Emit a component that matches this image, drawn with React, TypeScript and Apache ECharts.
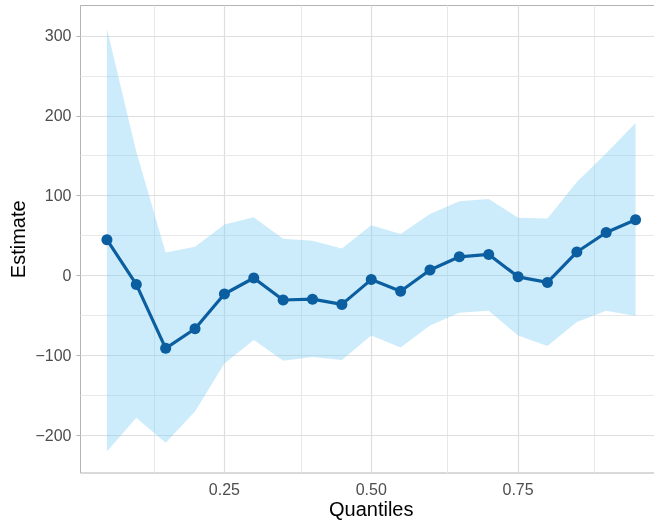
import React, { useEffect, useRef } from "react";
import * as echarts from "echarts";

const quantiles = [0.05, 0.1, 0.15, 0.2, 0.25, 0.3, 0.35, 0.4, 0.45, 0.5, 0.55, 0.6, 0.65, 0.7, 0.75, 0.8, 0.85, 0.9, 0.95];
const estimate = [45, -11, -91, -66.5, -23, -3, -30.5, -29.5, -36, -5, -19.5, 7, 23.5, 26.5, -1.5, -8.5, 29.5, 54, 70];
const upper = [309, 155, 29, 36, 64, 73, 46, 43.5, 34, 63, 52, 77, 93, 96, 72.5, 71.5, 117, 153, 191];
const lower = [-220, -178, -209, -170, -110, -80.5, -106.5, -102, -105.5, -75, -90, -62.5, -46.5, -44, -75, -88, -58, -44, -50.5];

const xTicks = [0.25, 0.5, 0.75];
const xMinor = [0.125, 0.375, 0.625, 0.875];
const yTicks = [-200, -100, 0, 100, 200, 300];
const yMinor = [-150, -50, 50, 150, 250];

const FONT = "'Liberation Sans', Arial, sans-serif";

export default function App() {
  const ref = useRef<HTMLDivElement>(null);
  useEffect(() => {
    if (!ref.current) return;
    const chart = echarts.init(ref.current, null, { renderer: "svg" });
    const gridLines = [
      ...xTicks.map((v) => ({ xAxis: v, lineStyle: { color: "#dedede", width: 1.2 } })),
      ...xMinor.map((v) => ({ xAxis: v, lineStyle: { color: "#e8e8e8", width: 1 } })),
      ...yTicks.map((v) => ({ yAxis: v, lineStyle: { color: "#dedede", width: 1.2 } })),
      ...yMinor.map((v) => ({ yAxis: v, lineStyle: { color: "#e8e8e8", width: 1 } })),
    ];
    chart.setOption({
      animation: false,
      grid: {
        left: 80.5,
        top: 5.5,
        bottom: 47,
        right: -8,
        outerBoundsMode: "none",
        containLabel: false,
        show: true,
        borderColor: "#b3b3b3",
        borderWidth: 1,
        backgroundColor: "transparent",
      },
      xAxis: {
        type: "value",
        min: 0.005,
        max: 0.995,
        name: "Quantiles",
        nameLocation: "middle",
        nameGap: 26,
        nameMoveOverlap: false,
        nameTextStyle: { color: "#000", fontSize: 20, fontFamily: FONT },
        axisLine: { show: false },
        splitLine: { show: false },
        axisTick: { show: true, length: 4, customValues: xTicks, lineStyle: { color: "#b3b3b3" } },
        axisLabel: {
          customValues: xTicks,
          color: "#4d4d4d",
          fontSize: 16,
          fontFamily: FONT,
          margin: 8,
          formatter: (v: number) => v.toFixed(2),
        },
      },
      yAxis: {
        type: "value",
        min: -247,
        max: 338,
        name: "Estimate",
        nameLocation: "middle",
        nameGap: 53,
        nameMoveOverlap: false,
        nameTextStyle: { color: "#000", fontSize: 20, fontFamily: FONT },
        axisLine: { show: false },
        splitLine: { show: false },
        axisTick: { show: true, length: 4, customValues: yTicks, lineStyle: { color: "#b3b3b3" } },
        axisLabel: {
          customValues: yTicks,
          color: "#4d4d4d",
          fontSize: 16,
          fontFamily: FONT,
          margin: 9,
          formatter: (v: number) => String(v).replace("-", "\u2212"),
        },
      },
      series: [
        {
          type: "custom",
          z: 2,
          silent: true,
          data: quantiles.map((q, i) => [q, lower[i], upper[i]]),
          encode: { x: 0, y: [1, 2] },
          renderItem: (params: any, api: any) => {
            if (params.dataIndex !== 0) return null;
            const top = quantiles.map((q, i) => api.coord([q, upper[i]]));
            const bot = quantiles.map((q, i) => api.coord([q, lower[i]])).reverse();
            return {
              type: "polygon",
              shape: { points: [...top, ...bot] },
              style: { fill: "rgba(130,208,245,0.4)" },
            };
          },
          markLine: {
            z: 1,
            silent: true,
            symbol: "none",
            label: { show: false },
            lineStyle: { type: "solid" },
            data: gridLines,
          },
        },
        {
          type: "line",
          z: 3,
          data: quantiles.map((q, i) => [q, estimate[i]]),
          symbol: "circle",
          symbolSize: 11,
          lineStyle: { color: "#0b5fa0", width: 3.2 },
          itemStyle: { color: "#0b5fa0" },
        },
      ],
    });
    return () => chart.dispose();
  }, []);
  return <div ref={ref} style={{ position: "fixed", left: 0, top: 0, width: 654, height: 520 }} />;
}
